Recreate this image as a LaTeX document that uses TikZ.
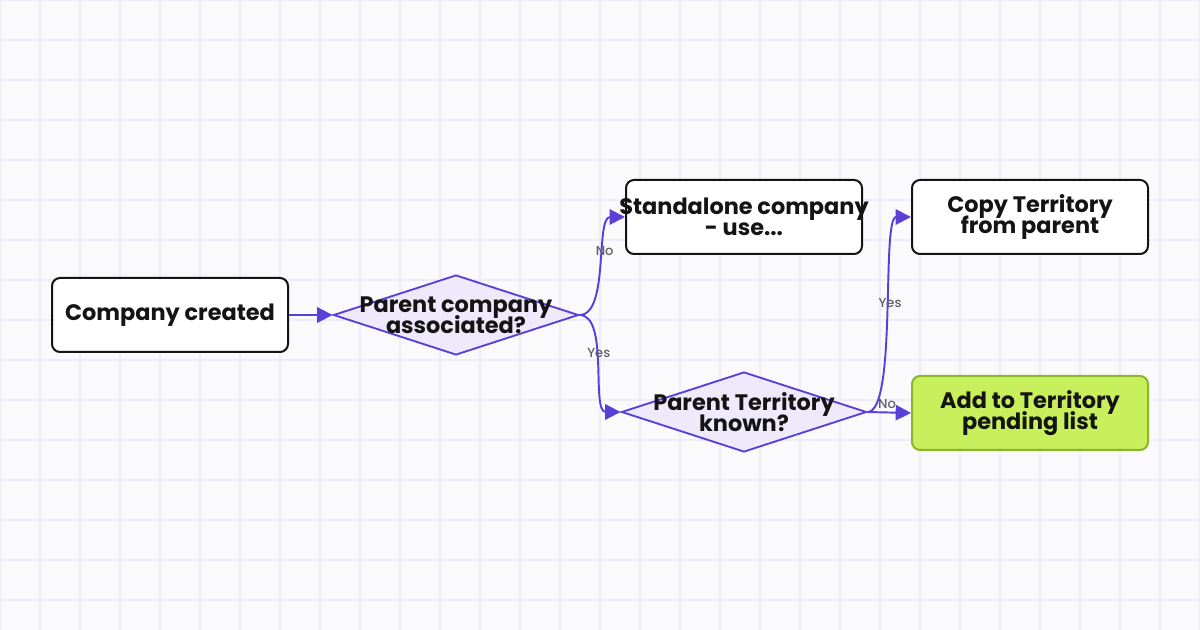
\documentclass[tikz,border=0pt]{standalone}
\usepackage{fontspec}
\setmainfont{Poppins}[BoldFont={* Bold}]
\newfontfamily\lblfont{Poppins Medium}
\usetikzlibrary{shapes.geometric,arrows.meta}
\newcommand\nodefnt{\bfseries\fontsize{16.8}{15.4}\selectfont\lineskiplimit-20pt\lineskip0pt\relax}
\definecolor{bg}{HTML}{FAFAFD}
\definecolor{gridc}{HTML}{EEECF8}
\definecolor{edge}{HTML}{5A3FD8}
\definecolor{dfill}{HTML}{EEEAFB}
\definecolor{gfill}{HTML}{C7F05C}
\definecolor{gdraw}{HTML}{8DB52C}
\definecolor{txt}{HTML}{141414}
\definecolor{lbl}{HTML}{5F5F68}
\tikzset{
  box/.style={draw=txt, line width=1.5pt, rounded corners=6pt, fill=white,
    minimum width=177pt, minimum height=55.5pt, inner sep=0pt,
    align=center, font=\nodefnt, text=txt},
  dia/.style={diamond, draw=edge, line width=1.4pt, fill=dfill, inner sep=0pt,
    minimum width=183.75pt, minimum height=60pt},
  dtext/.style={align=center, font=\nodefnt, text=txt, inner sep=0pt},
  conn/.style={draw=edge, line width=1.45pt, -{Triangle[length=11.5pt,width=11.5pt]}},
  elabel/.style={font=\lblfont\fontsize{9.8}{11}\selectfont, text=lbl, inner sep=1pt}
}
\begin{document}
\begin{tikzpicture}[x=0.75pt,y=-0.75pt]
\useasboundingbox (0,0) rectangle (1200,630);
\fill[bg] (0,0) rectangle (1200,630);
\foreach \i in {0,40,...,1200} \draw[gridc, line width=0.8pt] (\i,0) -- (\i,630);
\foreach \j in {0,40,...,600} \draw[gridc, line width=0.8pt] (0,\j) -- (1200,\j);

\node[box] (a) at (170,315) {Company created};
\node[dia, label={[dtext]center:Parent company\\associated?}] (b) at (456,315) {};
\node[box, label={[dtext]center:Standalone company\\- use...}] (c) at (744,217) {};
\node[dia, label={[dtext]center:Parent Territory\\known?}] (d) at (744,412) {};
\node[box] (e) at (1030,217) {Copy Territory\\from parent};
\node[box, fill=gfill, draw=gdraw] (f) at (1030,413) {Add to Territory\\pending list};

\draw[conn] (b.east) .. controls +(30,0) and +(-30,0) .. (c.west)
  node[elabel, pos=0.6] {No};
\draw[conn] (b.east) .. controls +(30,0) and +(-30,0) .. (d.west)
  node[elabel, pos=0.43] {Yes};
\draw[conn] (d.east) .. controls +(30,0) and +(-30,0) .. (e.west)
  node[elabel, pos=0.54] {Yes};
\draw[conn] (a.east) -- (b.west);
\draw[conn] (d.east) -- node[elabel, above=1pt, pos=0.45]{No} (f.west);
\end{tikzpicture}
\end{document}
